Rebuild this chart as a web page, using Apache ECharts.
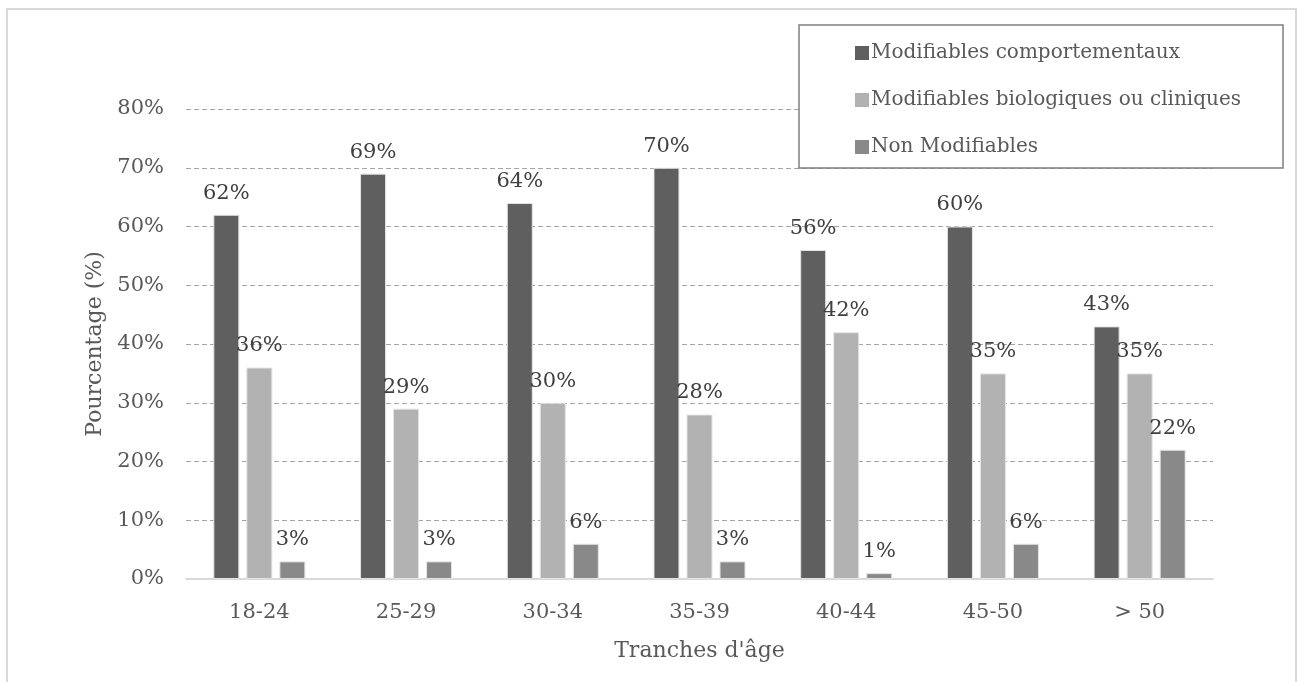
<!DOCTYPE html>
<html>
<head>
<meta charset="utf-8">
<script src="https://cdn.jsdelivr.net/npm/echarts@6/dist/echarts.min.js"></script>
<style>
  html, body { margin: 0; padding: 0; background: #fff; }
  #chart { width: 1302px; height: 682px; }
</style>
</head>
<body>
<div id="chart"></div>
<script>
// Age groups and the share (%) of each risk-factor type
const ageGroups = ['18-24', '25-29', '30-34', '35-39', '40-44', '45-50', '> 50'];
const comportementaux = [62, 69, 64, 70, 56, 60, 43];
const biologiques = [36, 29, 30, 28, 42, 35, 35];
const nonModifiables = [3, 3, 6, 3, 1, 6, 22];
const yTicks = [0, 10, 20, 30, 40, 50, 60, 70, 80];

const seriesNames = [
  'Modifiables comportementaux',
  'Modifiables biologiques ou cliniques',
  'Non Modifiables'
];
const seriesColors = ['#5f5f5f', '#b2b2b2', '#898989'];

const FONT = 'DejaVu Serif';
const chart = echarts.init(document.getElementById('chart'));

function barSeries(name, data, color) {
  return {
    name: name,
    type: 'bar',
    data: data,
    barWidth: 26,
    barGap: '27%',
    itemStyle: { color: color, borderColor: '#e4e4e4', borderWidth: 1 },
    label: {
      show: true,
      position: 'top',
      distance: 11,
      formatter: '{c}%',
      fontFamily: FONT,
      fontSize: 21,
      color: '#404040'
    }
  };
}

chart.setOption({
  animation: false,
  backgroundColor: '#fff',
  textStyle: { fontFamily: FONT },
  grid: { left: 186, right: 89, top: 109, bottom: 103 },
  graphic: [
    {
      type: 'rect',
      silent: true,
      z: -1,
      shape: { x: 7, y: 9, width: 1289, height: 700 },
      style: { fill: 'none', stroke: '#d9d9d9', lineWidth: 2 }
    },
    {
      type: 'rect',
      silent: true,
      z: 3,
      shape: { x: 799, y: 25, width: 484, height: 143 },
      style: { fill: '#fff', stroke: '#7f7f7f', lineWidth: 1.5 }
    }
  ],
  legend: {
    orient: 'vertical',
    left: 850,
    top: 36,
    z: 5,
    itemWidth: 14,
    itemHeight: 14,
    itemGap: 23,
    icon: 'rect',
    itemStyle: { borderWidth: 0 },
    textStyle: { fontFamily: FONT, fontSize: 20, color: '#595959', lineHeight: 24, padding: [0, 0, 0, -3] },
    data: seriesNames
  },
  xAxis: {
    type: 'category',
    data: ageGroups,
    name: "Tranches d'âge",
    nameLocation: 'middle',
    nameGap: 61,
    nameTextStyle: { fontFamily: FONT, fontSize: 22, color: '#595959' },
    axisLine: { lineStyle: { color: '#d9d9d9', width: 2 } },
    axisTick: { show: false },
    axisLabel: { fontFamily: FONT, fontSize: 21, color: '#595959', margin: 23 }
  },
  yAxis: {
    type: 'value',
    min: yTicks[0],
    max: yTicks[yTicks.length - 1],
    interval: yTicks[1] - yTicks[0],
    name: 'Pourcentage (%)',
    nameLocation: 'middle',
    nameGap: 79,
    nameTextStyle: { fontFamily: FONT, fontSize: 22, color: '#595959' },
    axisLine: { show: false },
    axisTick: { show: false },
    axisLabel: { fontFamily: FONT, fontSize: 21, color: '#595959', margin: 22, formatter: '{value}%' },
    splitLine: { lineStyle: { color: '#a6a6a6', type: [5, 3], width: 1 } }
  },
  series: [
    barSeries(seriesNames[0], comportementaux, seriesColors[0]),
    barSeries(seriesNames[1], biologiques, seriesColors[1]),
    barSeries(seriesNames[2], nonModifiables, seriesColors[2])
  ]
});
</script>
</body>
</html>
